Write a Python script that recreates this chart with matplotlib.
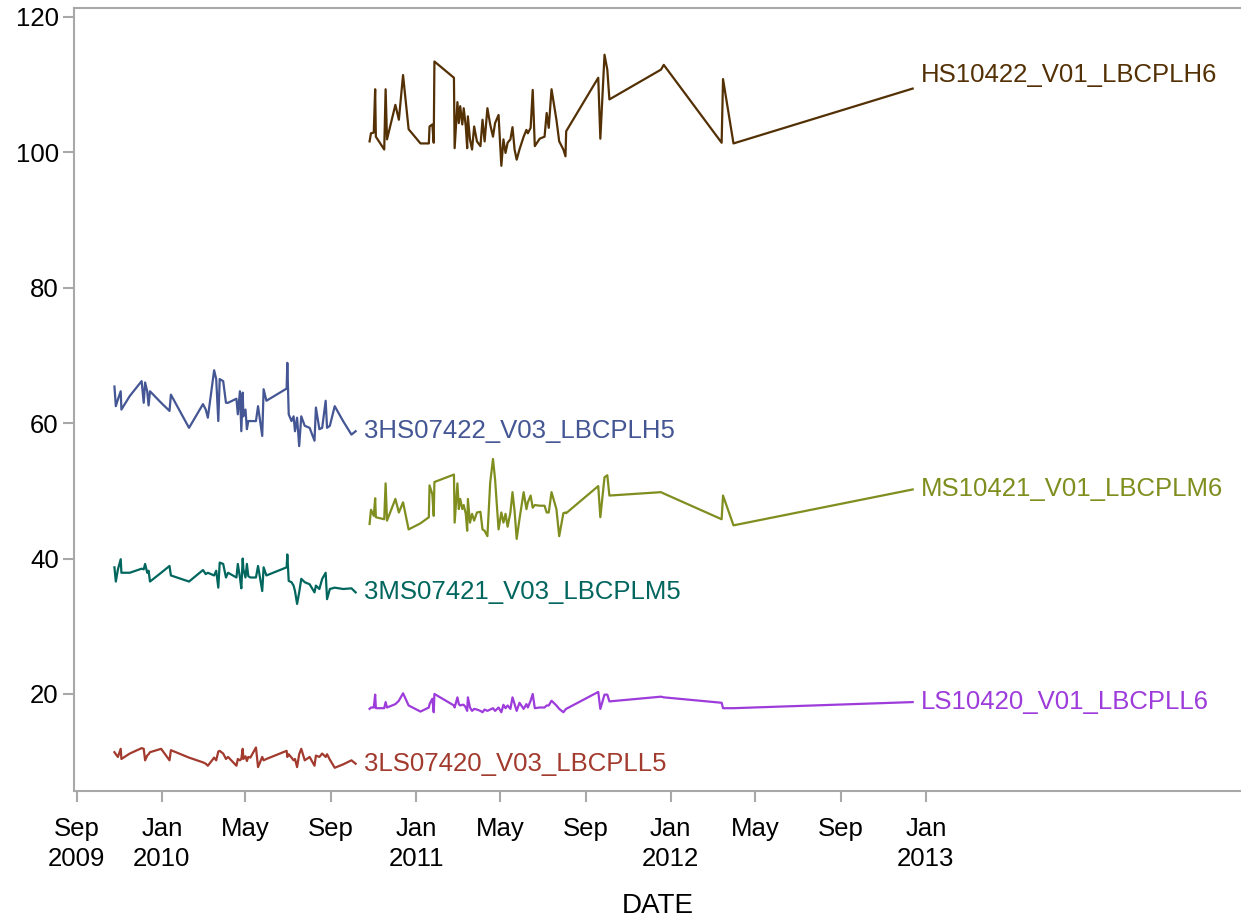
import pandas as pd
import matplotlib
matplotlib.use('Agg')
import matplotlib.pyplot as plt
import matplotlib.dates as mdates

plt.rcParams['font.family'] = ['Liberation Sans', 'DejaVu Sans']

# sampling dates, 2009-2010 probes
old_dates = ['2009-10-25', '2009-10-27', '2009-10-30', '2009-11-03', '2009-11-04', '2009-11-16',
             '2009-12-03', '2009-12-06', '2009-12-08', '2009-12-11', '2009-12-13', '2009-12-15',
             '2009-12-31', '2010-01-12', '2010-01-14', '2010-02-09', '2010-03-01', '2010-03-05',
             '2010-03-08', '2010-03-17', '2010-03-20', '2010-03-23', '2010-03-25', '2010-03-30',
             '2010-04-03', '2010-04-06', '2010-04-18', '2010-04-20', '2010-04-23', '2010-04-25',
             '2010-04-27', '2010-04-28', '2010-05-01', '2010-05-03', '2010-05-05', '2010-05-08',
             '2010-05-16', '2010-05-19', '2010-05-25', '2010-05-27', '2010-05-31', '2010-06-29',
             '2010-06-30', '2010-07-02', '2010-07-06', '2010-07-09', '2010-07-11', '2010-07-14',
             '2010-07-17', '2010-07-20', '2010-07-25', '2010-08-01', '2010-08-08', '2010-08-10',
             '2010-08-15', '2010-08-19', '2010-08-24', '2010-08-26', '2010-08-30', '2010-09-06',
             '2010-09-18', '2010-09-30', '2010-10-06']

hs07422 = [65.4, 62.5, 63.5, 64.7, 62.0, 64.0, 66.2, 63.0, 66.0, 64.7,
           62.6, 64.7, 63.0, 61.8, 64.2, 59.3, 62.8, 62.0, 60.8, 67.8,
           66.5, 60.3, 66.5, 66.2, 63.0, 63.0, 63.6, 61.3, 64.7, 58.8,
           64.5, 61.0, 62.0, 59.1, 60.3, 60.3, 60.3, 62.5, 58.1, 65.0,
           63.3, 65.1, 68.9, 61.3, 60.3, 61.0, 58.8, 60.8, 56.6, 61.0,
           59.6, 59.3, 57.4, 62.3, 59.1, 59.3, 63.3, 59.3, 59.6, 62.5,
           60.3, 58.3, 58.8]

ms07421 = [38.7, 36.6, 38.4, 39.9, 37.9, 37.9, 38.5, 38.4, 39.2, 37.9,
           38.2, 36.6, 37.9, 38.9, 37.5, 36.6, 38.3, 37.7, 37.9, 37.5,
           38.2, 35.7, 39.4, 39.2, 37.2, 37.9, 37.2, 39.2, 37.2, 35.6,
           40.0, 38.4, 37.2, 39.2, 37.4, 37.2, 37.2, 38.9, 35.2, 38.7,
           37.5, 38.7, 40.6, 36.7, 36.5, 36.0, 35.2, 33.3, 35.0, 37.0,
           36.5, 36.2, 35.0, 36.0, 35.5, 37.0, 37.9, 34.0, 35.5, 35.7,
           35.5, 35.6, 35.0]

ls07420 = [11.4, 11.1, 10.7, 11.9, 10.4, 11.2, 12.0, 11.9, 10.2, 10.9,
           11.1, 11.4, 11.9, 10.2, 11.7, 10.6, 9.9, 9.7, 9.4, 10.6,
           10.2, 11.5, 11.6, 11.2, 10.4, 10.7, 9.4, 10.4, 10.2, 10.4,
           11.9, 10.4, 10.8, 10.1, 10.7, 10.6, 12.1, 9.2, 10.7, 10.2,
           10.4, 11.6, 10.7, 11.1, 10.6, 10.2, 10.4, 9.2, 11.1, 11.9,
           10.2, 10.7, 9.4, 10.9, 10.7, 11.2, 10.7, 11.1, 10.3, 9.1,
           9.6, 10.2, 9.7]

# sampling dates, 2010-2012 probes
new_dates = ['2010-10-26', '2010-10-28', '2010-11-01', '2010-11-03', '2010-11-04', '2010-11-16',
             '2010-11-18', '2010-11-20', '2010-12-02', '2010-12-07', '2010-12-13', '2010-12-21',
             '2011-01-07', '2011-01-19', '2011-01-20', '2011-01-24', '2011-01-26', '2011-01-27',
             '2011-02-24', '2011-02-25', '2011-03-01', '2011-03-03', '2011-03-05', '2011-03-08',
             '2011-03-10', '2011-03-13', '2011-03-15', '2011-03-16', '2011-03-19', '2011-03-22',
             '2011-03-25', '2011-03-29', '2011-04-03', '2011-04-06', '2011-04-09', '2011-04-13',
             '2011-04-17', '2011-04-21', '2011-04-24', '2011-04-29', '2011-05-03', '2011-05-06',
             '2011-05-09', '2011-05-12', '2011-05-16', '2011-05-19', '2011-05-22', '2011-05-25',
             '2011-05-29', '2011-06-04', '2011-06-08', '2011-06-10', '2011-06-14', '2011-06-17',
             '2011-06-20', '2011-06-27', '2011-07-04', '2011-07-07', '2011-07-10', '2011-07-14',
             '2011-07-21', '2011-07-25', '2011-07-31', '2011-08-03', '2011-08-04', '2011-09-19',
             '2011-09-22', '2011-09-28', '2011-10-02', '2011-10-05', '2011-12-18', '2011-12-22',
             '2012-03-14', '2012-03-16', '2012-03-31', '2012-12-13']

hs10422 = [101.6, 102.8, 102.9, 109.3, 102.3, 100.4, 109.3, 101.9, 107.0, 104.8,
           111.4, 103.4, 101.3, 101.3, 103.8, 104.1, 101.4, 113.4, 111.0, 100.6,
           107.4, 104.3, 106.8, 104.1, 106.5, 103.8, 100.6, 105.3, 101.9, 100.4,
           103.8, 101.6, 100.9, 104.8, 101.6, 106.5, 104.1, 102.3, 104.3, 105.5,
           98.0, 101.9, 99.9, 101.4, 101.9, 103.7, 100.4, 98.9, 100.4, 102.3,
           103.3, 102.8, 103.6, 109.2, 100.9, 102.0, 102.3, 105.8, 103.6, 109.3,
           104.8, 101.6, 100.4, 99.4, 103.1, 111.0, 102.0, 114.4, 112.2, 107.8,
           112.2, 112.9, 101.4, 110.8, 101.3, 109.4]

ms10421 = [45.1, 47.2, 46.3, 48.9, 46.1, 45.8, 51.1, 45.6, 48.8, 46.8,
           48.3, 44.3, 45.2, 46.1, 50.8, 49.5, 46.3, 51.3, 52.4, 45.3,
           51.1, 47.3, 48.8, 47.3, 47.9, 46.6, 44.1, 48.8, 45.3, 46.6,
           45.6, 46.8, 46.9, 44.3, 44.1, 43.3, 51.2, 54.7, 51.7, 44.3,
           46.8, 45.3, 46.6, 44.7, 46.8, 49.8, 47.0, 42.9, 45.8, 49.8,
           47.3, 48.3, 49.3, 47.5, 47.9, 47.8, 47.8, 46.8, 46.8, 49.8,
           47.3, 43.3, 46.7, 46.8, 46.7, 50.7, 46.1, 52.0, 52.3, 49.3,
           49.8, 49.6, 45.8, 49.3, 44.9, 50.2]

ls10420 = [17.8, 18.0, 18.0, 19.9, 17.9, 17.9, 18.8, 18.0, 18.5, 19.0,
           20.1, 18.3, 17.4, 18.0, 18.5, 19.3, 17.3, 20.0, 18.3, 18.0,
           19.5, 18.5, 18.3, 18.4, 18.4, 18.0, 17.5, 19.5, 18.0, 17.5,
           17.8, 17.7, 17.5, 17.3, 17.7, 17.5, 17.7, 17.9, 17.5, 18.0,
           17.3, 18.4, 17.9, 18.3, 17.8, 19.5, 18.5, 17.5, 18.7, 17.8,
           18.5, 18.0, 19.0, 20.0, 17.9, 18.0, 18.0, 18.3, 18.3, 19.0,
           18.3, 17.8, 17.3, 17.7, 17.8, 20.3, 17.8, 19.9, 19.9, 18.9,
           19.6, 19.5, 18.7, 17.9, 17.9, 18.8]

tick_dates = ['2009-09-01', '2010-01-01', '2010-05-01', '2010-09-01', '2011-01-01', '2011-05-01',
              '2011-09-01', '2012-01-01', '2012-05-01', '2012-09-01', '2013-01-01']
tick_labels = ['Sep\n2009', 'Jan\n2010', 'May', 'Sep', 'Jan\n2011', 'May',
               'Sep', 'Jan\n2012', 'May', 'Sep', 'Jan\n2013']

# (dates, values, curve label, colour, vertical label offset in points)
series = [
    (old_dates, hs07422, '3HS07422_V03_LBCPLH5', '#445694', 0),
    (old_dates, ls07420, '3LS07420_V03_LBCPLL5', '#A23A2E', 0),
    (old_dates, ms07421, '3MS07421_V03_LBCPLM5', '#01665E', 0),
    (new_dates, hs10422, 'HS10422_V01_LBCPLH6', '#543005', 10),
    (new_dates, ls10420, 'LS10420_V01_LBCPLL6', '#9D3CDB', 0),
    (new_dates, ms10421, 'MS10421_V01_LBCPLM6', '#7F8E1F', 0),
]

fig = plt.figure(figsize=(12.41, 9.21), dpi=100)
ax = fig.add_axes([74 / 1241, 1 - 791 / 921, 1 - 74 / 1241, (791 - 8) / 921])

for dates, vals, name, color, dy in series:
    d = pd.to_datetime(dates)
    ax.plot(d, vals, color=color, lw=1.6)
    ax.annotate(name, xy=(d[-1], vals[-1]), xytext=(6, dy), textcoords='offset points',
                ha='left', va='center', color=color, fontsize=18.5)

grey = '#a8a8a8'
for side in ['left', 'top', 'bottom']:
    ax.spines[side].set_color(grey)
    ax.spines[side].set_linewidth(1.5)
ax.spines['right'].set_visible(False)

ax.set_ylim(5.67, 121.3)
ax.set_yticks([20, 40, 60, 80, 100, 120])
ax.set_xlim(mdates.date2num(pd.Timestamp('2009-08-28')), mdates.date2num(pd.Timestamp('2014-03-29')))
ax.set_xticks(pd.to_datetime(tick_dates))
ax.set_xticklabels(tick_labels, linespacing=1.3)
ax.tick_params(axis='both', colors=grey, labelcolor='black', length=8, width=1.5, labelsize=18.5)
ax.tick_params(axis='y', pad=3)
ax.tick_params(axis='x', pad=11)
ax.set_xlabel('DATE', fontsize=20, labelpad=16)

fig.savefig('out.png', dpi=100)
